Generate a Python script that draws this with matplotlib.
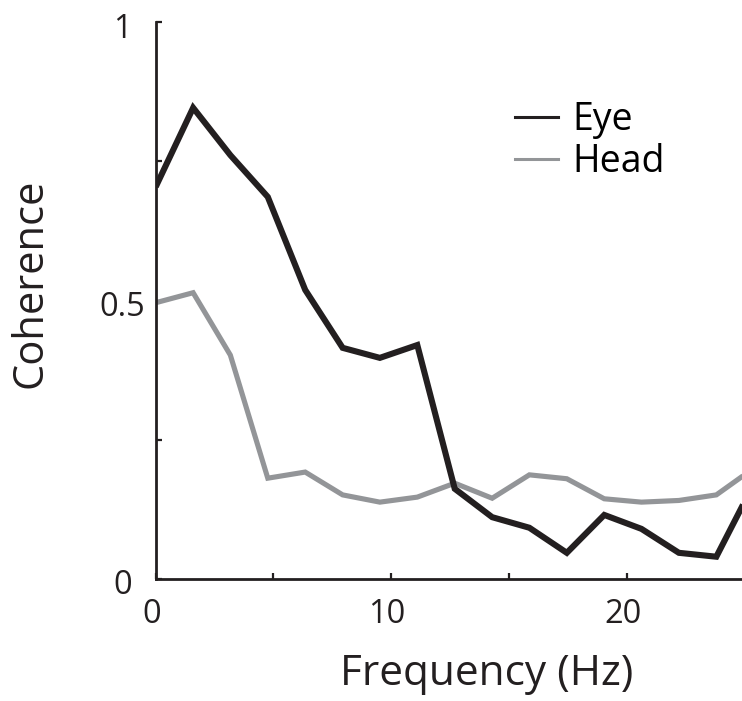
import matplotlib
matplotlib.use("Agg")
import matplotlib.pyplot as plt
import matplotlib.transforms as mtransforms
from matplotlib.lines import Line2D

# Coherence spectra of eye and head signals
freq_hz = [0.0, 1.59, 3.17, 4.76, 6.35, 7.94, 9.52, 11.11, 12.70,
           14.29, 15.87, 17.46, 19.05, 20.63, 22.22, 23.81, 25.40]
eye_coh = [0.704, 0.846, 0.761, 0.686, 0.519, 0.415, 0.397, 0.420, 0.162,
           0.111, 0.092, 0.047, 0.115, 0.090, 0.047, 0.040, 0.171]
head_coh = [0.496, 0.514, 0.402, 0.181, 0.192, 0.151, 0.138, 0.147, 0.172,
            0.145, 0.187, 0.180, 0.144, 0.138, 0.141, 0.151, 0.199]

series_labels = ["Eye", "Head"]
x_ticks = [0, 5, 10, 15, 20]
x_ticklabels = ["0", "", "10", "", "20"]
y_ticks = [0, 0.25, 0.5, 0.75, 1]
y_ticklabels = ["0", "", "0.5", "", "1"]

EYE_COLOR = "#231f20"
HEAD_COLOR = "#939598"
AXIS_COLOR = "#231f20"

plt.rcParams["font.family"] = ["Open Sans", "DejaVu Sans"]

W, H = 742, 701
fig = plt.figure(figsize=(W / 100, H / 100), dpi=100)
ax = fig.add_axes([155.7 / W, 122 / H, 586.3 / W, 557 / H])

ax.plot(freq_hz, eye_coh, color=EYE_COLOR, lw=4.4, solid_joinstyle="miter",
        solid_capstyle="butt", zorder=3)
ax.plot(freq_hz, head_coh, color=HEAD_COLOR, lw=3.7, solid_joinstyle="miter",
        solid_capstyle="butt", zorder=2)

ax.set_xlim(0, 24.9)
ax.set_ylim(0, 1)

for side in ("top", "right"):
    ax.spines[side].set_visible(False)
for side in ("left", "bottom"):
    ax.spines[side].set_linewidth(2.0)
    ax.spines[side].set_color(AXIS_COLOR)

ax.set_xticks(x_ticks)
ax.set_xticklabels(x_ticklabels)
ax.set_yticks(y_ticks)
ax.set_yticklabels(y_ticklabels)
ax.tick_params(direction="in", length=4, width=1.6, color=AXIS_COLOR,
               labelsize=23.5, labelcolor=AXIS_COLOR)
ax.tick_params(axis="x", pad=14)
ax.tick_params(axis="y", pad=24)
for lab in ax.get_yticklabels():
    lab.set_horizontalalignment("center")
    lab.set_transform(lab.get_transform() +
                      mtransforms.ScaledTranslation(-0.0, -0.03, fig.dpi_scale_trans))
for lab in ax.get_xticklabels():
    lab.set_transform(lab.get_transform() +
                      mtransforms.ScaledTranslation(-0.04, 0, fig.dpi_scale_trans))

fig.text(487 / W, 1 - 674 / H, "Frequency (Hz)", ha="center", va="center",
         fontsize=30.5, color=AXIS_COLOR)
fig.text(31 / W, 1 - 283 / H, "Coherence", ha="center", va="center",
         rotation=90, fontsize=30, color=AXIS_COLOR)

handles = [Line2D([], [], color=EYE_COLOR, lw=2.2),
           Line2D([], [], color=HEAD_COLOR, lw=2.2)]
ax.legend(handles, series_labels, frameon=False, fontsize=27,
          loc="upper left", bbox_to_anchor=(511 / W, 1 - 97 / H),
          bbox_transform=fig.transFigure, handlelength=1.15,
          handletextpad=0.4, labelspacing=0.12, borderaxespad=0,
          borderpad=0.1)

fig.savefig("out.png", dpi=100)
